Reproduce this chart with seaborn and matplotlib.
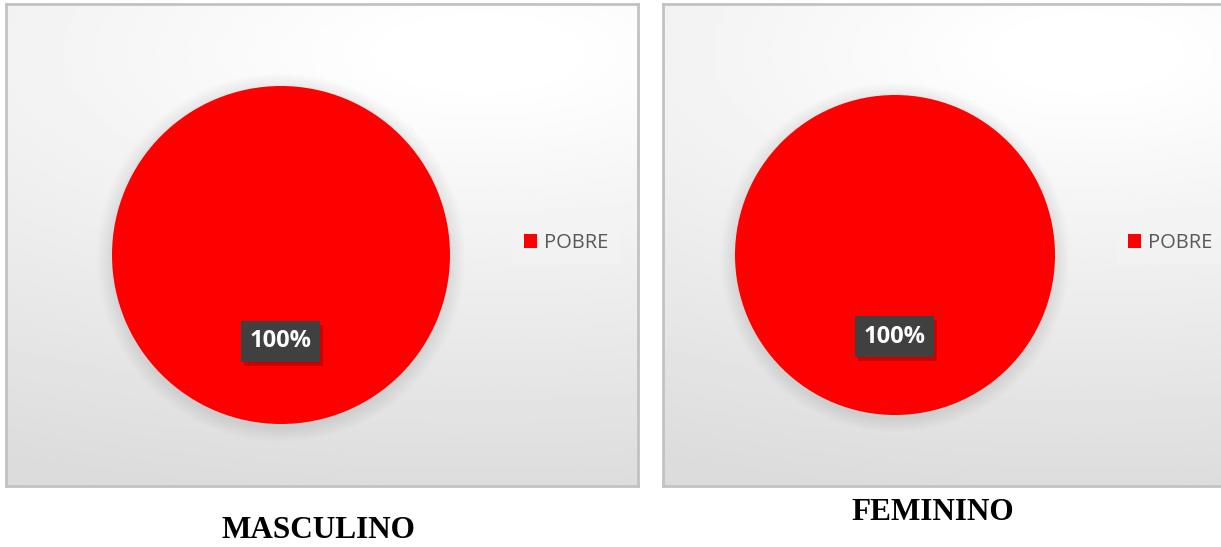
import numpy as np
import matplotlib
matplotlib.use("Agg")
import matplotlib.pyplot as plt
import matplotlib.patheffects as pe
from matplotlib.patches import Circle
import seaborn as sns

# Data
groups = ["MASCULINO", "FEMININO"]
categories = ["POBRE"]
masculino_values = [100]
feminino_values = [100]
pie_colors = ["#ff0000"]

sns.set_theme(style="white")
plt.rcParams['font.family'] = ['Open Sans', 'DejaVu Sans']

W, H = 1221, 547
fig = plt.figure(figsize=(W / 100, H / 100), dpi=100)
fig.patch.set_facecolor("white")


def px_axes(x0, y0, x1, y1, **kw):
    # pixel box (top-left origin) -> figure axes
    return fig.add_axes([x0 / W, 1 - y1 / H, (x1 - x0) / W, (y1 - y0) / H], **kw)


def draw_panel(box, center, radius, values, title, title_y, legend_x):
    x0, y0, x1, y1 = box
    bg = px_axes(x0, y0, x1, y1)
    gx, gy = np.meshgrid(np.linspace(0, 1, 200), np.linspace(0, 1, 200))
    dist = np.sqrt(0.25 * (gx - 0.75) ** 2 + (gy - 0.1) ** 2)
    shade = np.clip(1.01 - 0.16 * dist, 0.86, 1.0)
    bg.imshow(shade, cmap="gray", vmin=0, vmax=1, extent=(0, 1, 0, 1),
              origin="upper", aspect="auto", interpolation="bilinear")
    bg.set_xticks([])
    bg.set_yticks([])
    for s in bg.spines.values():
        s.set_color("#c2c2c2")
        s.set_linewidth(2)

    cx, cy = center
    ax = px_axes(cx - radius, cy - radius, cx + radius, cy + radius)
    ax.set_facecolor("none")
    # soft shadow around the pie
    for i in range(10):
        ax.add_patch(Circle((0.0, -0.015), 1.0 + 0.009 * (10 - i), color="#000000",
                            alpha=0.008, lw=0, zorder=0, clip_on=False))
    wedges, _, autotexts = ax.pie(values, colors=pie_colors, startangle=90,
                                  counterclock=False, autopct="%1.0f%%",
                                  pctdistance=0.51, radius=1.0,
                                  wedgeprops=dict(linewidth=0, zorder=1),
                                  textprops=dict(color="white", fontsize=17,
                                                 fontweight="bold"))
    for t in autotexts:
        t.set_bbox(dict(boxstyle="square,pad=0.36", facecolor="#404040",
                        edgecolor="none"))
        t.get_bbox_patch().set_path_effects([
            pe.SimplePatchShadow(offset=(2, -3), shadow_rgbFace="#700000", alpha=0.35),
            pe.Normal()])
    ax.set_xlim(-1, 1)
    ax.set_ylim(-1, 1)
    ax.set_aspect("equal")
    ax.axis("off")

    leg = fig.legend(wedges, categories, loc="center left",
                     bbox_to_anchor=(legend_x / W, 1 - 243 / H),
                     frameon=True, fontsize=14.5, handlelength=0.65,
                     handleheight=0.65, handletextpad=0.35, borderpad=0.55,
                     fancybox=False)
    leg.get_frame().set_facecolor("#f4f4f4")
    leg.get_frame().set_alpha(0.5)
    leg.get_frame().set_linewidth(0)
    for txt in leg.get_texts():
        txt.set_color("#595959")

    fig.text(title[1] / W, 1 - title_y / H, title[0], ha="center", va="center",
             fontsize=22.5, fontweight="bold", family=["Liberation Serif", "DejaVu Serif"],
             color="black")


draw_panel((6, 4, 638, 486), (281, 255), 169, masculino_values,
           (groups[0], 318), 530, 503)
draw_panel((663, 4, 1230, 486), (895, 255), 160, feminino_values,
           (groups[1], 933), 512, 1107)

fig.savefig("out.png", dpi=100, facecolor="white")
